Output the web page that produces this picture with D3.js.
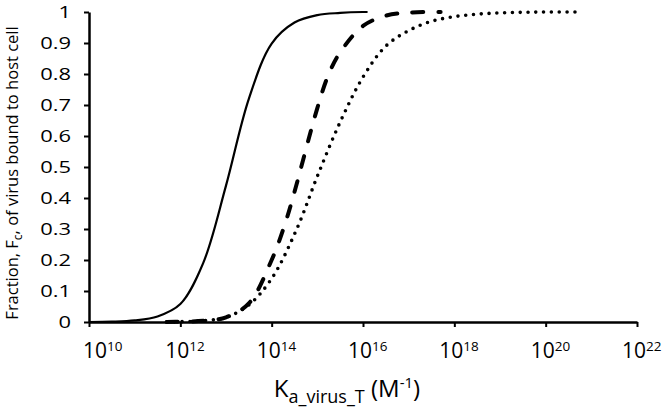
<!DOCTYPE html>
<html>
<head>
<meta charset="utf-8">
<script src="https://cdn.jsdelivr.net/npm/d3@7"></script>
<style>
  body { margin: 0; background: #fff; }
  svg { display: block; }
  text { font-family: 'Open Sans', sans-serif; fill: #000; }
</style>
</head>
<body>
<svg id="chart" width="666" height="412"></svg>
<script>
const size = { width: 666, height: 412 };
const margin = { left: 89, right: 29, top: 12, bottom: 90 };

// log10 of Ka values, with fraction bound
const solidLogK = [10, 10.5, 11, 11.5, 12, 12.5, 13, 13.5, 14, 14.5, 15, 15.5, 16, 16.1];
const solidF    = [0, 0.001, 0.005, 0.018, 0.058, 0.19, 0.44, 0.72, 0.898, 0.966, 0.99, 0.997, 1, 1];

const dashedLogK = [11.7, 12, 12.5, 13, 13.5, 14, 14.3, 14.5, 15, 15.25, 15.5, 16, 16.5, 17, 17.7];
const dashedF    = [0, 0.001, 0.004, 0.015, 0.06, 0.2, 0.32, 0.42, 0.69, 0.8, 0.87, 0.955, 0.988, 0.998, 1];

const dottedLogK = [11.7, 12, 12.5, 13, 13.5, 14, 14.55, 15, 15.5, 16, 16.5, 17, 17.5, 18, 18.5, 19, 19.5, 20, 20.7];
const dottedF    = [0, 0.001, 0.004, 0.015, 0.055, 0.14, 0.3, 0.47, 0.645, 0.79, 0.89, 0.94, 0.97, 0.985, 0.993, 0.997, 0.999, 1, 1];

const xTickExps = [10, 12, 14, 16, 18, 20, 22];
const yTicks = [0, 0.1, 0.2, 0.3, 0.4, 0.5, 0.6, 0.7, 0.8, 0.9, 1];

const svg = d3.select('#chart');

const xScale = d3.scaleLog()
    .domain([1e10, 1e22])
    .range([margin.left, size.width - margin.right]);

const yScale = d3.scaleLinear()
    .domain([0, 1])
    .range([size.height - margin.bottom, margin.top]);

// y axis
const yAxis = svg.append('g')
    .attr('transform', `translate(${margin.left}, 0)`)
    .call(d3.axisLeft(yScale).tickValues(yTicks).tickSize(5).tickSizeOuter(0)
        .tickFormat(d => d3.format('')(d)));
yAxis.select('.domain').attr('stroke', '#000').attr('stroke-width', 2.5);
yAxis.selectAll('.tick line').attr('stroke', '#000').attr('stroke-width', 2);
// labels in the reference are wide, so stretch them a bit
yAxis.selectAll('.tick text')
    .attr('x', null)
    .attr('dy', '0.36em')
    .attr('transform', 'translate(-18, 0) scale(1.33, 1)')
    .style('font-size', '16.5px')
    .style('font-family', "'Open Sans', sans-serif");

// x axis
const xAxis = svg.append('g')
    .attr('transform', `translate(0, ${size.height - margin.bottom})`)
    .call(d3.axisBottom(xScale).tickValues(xTickExps.map(e => Math.pow(10, e))).tickSize(5).tickSizeOuter(0)
        .tickFormat(''));
xAxis.select('.domain').attr('stroke', '#000').attr('stroke-width', 2.5);
xAxis.selectAll('.tick line').attr('stroke', '#000').attr('stroke-width', 2);

// x tick labels with superscript exponent
const xLabels = svg.append('g');
xTickExps.forEach((e, i) => {
    const tx = xScale(Math.pow(10, e));
    const t = xLabels.append('text')
        .attr('x', i === 0 ? tx - 6 : tx - 15)
        .attr('y', size.height - margin.bottom + 36)
        .style('font-size', '21px');
    t.append('tspan').text('10');
    t.append('tspan').attr('dy', -7).style('font-size', '13.5px').text(e);
});

// x axis title
const xTitle = svg.append('text')
    .attr('x', 347)
    .attr('y', 397)
    .attr('text-anchor', 'middle')
    .style('font-size', '24px');
xTitle.append('tspan').text('K');
xTitle.append('tspan').attr('dy', 6).style('font-size', '18px').text('a_virus_T');
xTitle.append('tspan').attr('dy', -6).text(' (M');
xTitle.append('tspan').attr('dy', -9).style('font-size', '15px').text('-1');
xTitle.append('tspan').attr('dy', 9).text(')');

// y axis title
const yTitle = svg.append('text')
    .attr('transform', `translate(18, 173) rotate(-90)`)
    .attr('text-anchor', 'middle')
    .style('font-size', '16.5px');
yTitle.append('tspan').text('Fraction, F');
yTitle.append('tspan').attr('dy', 4).style('font-size', '12px').text('c');
yTitle.append('tspan').attr('dy', -4).text(', of virus bound  to host cell');

// curves
const line = d3.line()
    .x(d => xScale(Math.pow(10, d[0])))
    .y(d => yScale(d[1]))
    .curve(d3.curveCatmullRom.alpha(0.5));

const series = [
    { logK: solidLogK, f: solidF, width: 2.2, dash: null },
    { logK: dashedLogK, f: dashedF, width: 4, dash: '11,15' },
    { logK: dottedLogK, f: dottedF, width: 3.6, dash: '0,7.8' }
];

series.forEach(s => {
    svg.append('path')
        .datum(d3.zip(s.logK, s.f))
        .attr('d', line)
        .attr('fill', 'none')
        .attr('stroke', '#000')
        .attr('stroke-width', s.width)
        .attr('stroke-linecap', s.dash ? 'round' : 'butt')
        .attr('stroke-dasharray', s.dash);
});
</script>
</body>
</html>
